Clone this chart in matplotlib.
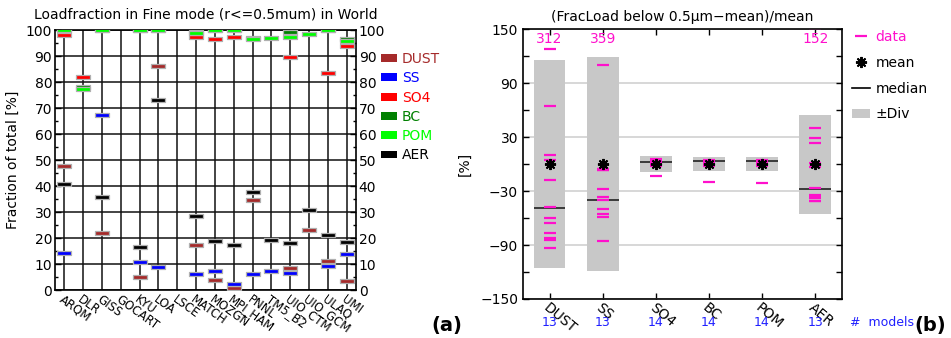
import numpy as np
import matplotlib
matplotlib.use('Agg')
import matplotlib.pyplot as plt
from matplotlib.path import Path
from matplotlib.patches import Patch
from matplotlib.lines import Line2D
from matplotlib.transforms import ScaledTranslation, blended_transform_factory

nan = np.nan

# --- pannello (a): frazione fine mode per modello ---
modelli = ['ARQM', 'DLR', 'GISS', 'GOCART', 'KYU', 'LOA', 'LSCE', 'MATCH', 'MOZGN',
           'MPI_HAM', 'PNNL', 'TM5_B2', 'UIO_CTM', 'UIO_GCM', 'ULAQ', 'UMI']
dust = [47.7, nan, 21.9, nan, 4.9, 86.2, nan, 17.2, 3.8, 0.9, 34.5, nan, 8.5, 23.0, 11.0, 3.5]
ss = [14.1, nan, 67.2, nan, 10.6, 8.7, nan, 6.0, 7.3, 2.2, 6.0, 7.3, 6.5, nan, 9.2, 13.7]
so4 = [98.2, 82.0, nan, nan, nan, nan, nan, 97.4, 96.5, 97.3, nan, nan, 89.5, nan, 83.6, 93.8]
bc = [100, 78.0, 100, nan, 100, 100, nan, 99.2, 100, 100, 97.0, nan, 99.2, nan, 100, 96.6]
pom = [100, 77.4, 100, nan, 100, 100, nan, 99.0, 100, 100, 96.4, 96.8, 97.3, 98.3, 100, 95.8]
aer = [40.7, nan, 35.8, nan, 16.7, 73.0, nan, 28.5, 19.0, 17.2, 37.6, 19.2, 18.1, 30.6, 21.2, 18.5]

specie_a = ['DUST', 'SS', 'SO4', 'BC', 'POM', 'AER']
colori_a = ['#a52a2a', '#0000ff', '#ff0000', '#008000', '#00ff00', '#000000']

# --- pannello (b): (FracLoad - mean)/mean ---
specie_b = ['DUST', 'SS', 'SO4', 'BC', 'POM', 'AER']
n_modelli = [13, 13, 14, 14, 14, 13]
medie = [0, 0, 0, 0, 0, 0]
mediane = [-48.4, -40.2, 2.0, 3.6, 3.8, -27.5]
div = [115.3, 119.4, 9.0, 7.5, 7.6, 55.2]
dati_dust = [312, 128, 65, 10, 5, -18, -48, -60, -66, -77, -82, -84, -93]
dati_ss = [359, 110, -5, -5, -7, -7, -28, -36, -40, -50, -55, -59, -85]
dati_so4 = [5.5, 5, 4.5, 4, 3, 3, 2, 2, 1, 1, 0.5, -1, -2, -13]
dati_bc = [4.5, 4, 3.5, 3, 3, 2.5, 2, 2, 1.5, 1, 0, -1, -2.5, -20]
dati_pom = [4.5, 4, 3.5, 3, 3, 2.5, 2, 2, 1.5, 1, 0, -1, -2.5, -21]
dati_aer = [152, 40, 29, 23, 1, -3, -27, -34, -35, -37, -38, -41, -41]

fig = plt.figure(figsize=(9.51, 3.38), dpi=100)

# ---------------- pannello (a) ----------------
ax = fig.add_axes([55 / 951, 48 / 338, 301 / 951, 260 / 338])
x = np.arange(1, len(modelli) + 1)

# marker rettangolare piatto
rett = Path([(-1, -0.36), (1, -0.36), (1, 0.36), (-1, 0.36), (-1, -0.36)],
            [Path.MOVETO, Path.LINETO, Path.LINETO, Path.LINETO, Path.CLOSEPOLY])

for valori, col in zip([dust, ss, so4, bc, pom, aer], colori_a):
    ax.plot(x, valori, ls='none', marker=rett, ms=9.5, mfc=col, mec='#b0b0b0',
            mew=0.9, zorder=3)

ax.set_xlim(0.5, len(modelli) + 0.5)
ax.set_ylim(0, 100)
ax.set_yticks(np.arange(0, 101, 10))
ax.set_yticks(np.arange(5, 100, 10), minor=True)
ax.set_xticks(x, modelli, rotation=-36, ha='left', va='top',
              rotation_mode='anchor', fontsize=8.5)
for lbl in ax.get_xticklabels():
    lbl.set_transform(lbl.get_transform() + ScaledTranslation(-5 / 72, 0, fig.dpi_scale_trans))
ax.tick_params(axis='x', length=0, pad=2)
ax.tick_params(axis='y', which='both', direction='in', right=True, labelright=True,
               labelsize=10, length=4, width=1, pad=2)
ax.tick_params(axis='y', which='minor', length=2.5)
ax.grid(True, color='#111111', lw=1.1)
ax.set_axisbelow(True)
for s in ax.spines.values():
    s.set_linewidth(1.2)
ax.set_ylabel('Fraction of total [%]', fontsize=10, labelpad=4)
ax.set_title('Loadfraction in Fine mode (r<=0.5mum) in World', fontsize=10, pad=8)

maniglie = [Patch(facecolor=c, edgecolor='none') for c in colori_a]
fig.legend(maniglie, specie_a, loc='upper left', bbox_to_anchor=(381 / 951, 1 - 52 / 338),
           frameon=False, fontsize=10, labelcolor=colori_a, handlelength=1.15,
           handleheight=0.5, handletextpad=0.35, labelspacing=0.38, borderpad=0,
           borderaxespad=0)

fig.text(431 / 951, 1 - 325 / 338, '(a)', fontsize=14, fontweight='bold', va='center')

# ---------------- pannello (b) ----------------
ax2 = fig.add_axes([523 / 951, 39 / 338, 318.7 / 951, 269.7 / 338])
xb = np.arange(1, len(specie_b) + 1)
larg = 0.6
magenta = '#ff10cc'

ax2.bar(xb, 2 * np.array(div), bottom=np.array(medie) - np.array(div), width=larg,
        color='#c8c8c8', zorder=1)
ax2.hlines(mediane, xb - larg / 2, xb + larg / 2, color='#222222', lw=1.2, zorder=3)

ymax = 150
for xi, vals in zip(xb, [dati_dust, dati_ss, dati_so4, dati_bc, dati_pom, dati_aer]):
    vals = np.array(vals, dtype=float)
    ax2.plot(np.full(len(vals), xi), vals, ls='none', marker='_', ms=8.5, mew=1.6,
             color=magenta, zorder=4)
    for v in vals[vals > ymax]:
        ax2.text(xi, 139, f'{v:.0f}', color=magenta, fontsize=10, ha='center', va='center')

ax2.plot(xb, medie, ls='none', marker=(8, 2, 0), ms=8, mew=1.4, color='k', zorder=5)

ax2.set_xlim(0.5, len(specie_b) + 0.5)
ax2.set_ylim(-150, 150)
ax2.set_yticks([150, 90, 30, -30, -90, -150])
ax2.set_yticks([120, 60, 0, -60, -120], minor=True)
ax2.set_xticks(xb, specie_b, rotation=-40, ha='left', va='top',
               rotation_mode='anchor', fontsize=9)
for lbl in ax2.get_xticklabels():
    lbl.set_transform(lbl.get_transform() + ScaledTranslation(3 / 72, 0, fig.dpi_scale_trans))
ax2.tick_params(axis='both', which='both', direction='in', top=True, right=True,
                length=4, width=1, labelsize=10)
ax2.tick_params(axis='x', pad=1)
ax2.grid(True, axis='y', which='major', color='#d4d4d4', lw=1.3)
ax2.set_axisbelow(True)
for s in ax2.spines.values():
    s.set_linewidth(1.2)
ax2.set_ylabel('[%]', fontsize=10, labelpad=6)
ax2.set_title('(FracLoad below 0.5\u03bcm\u2212mean)/mean', fontsize=10, pad=6)

trans = blended_transform_factory(ax2.transData, ax2.transAxes)
for xi, n in zip(xb, n_modelli):
    ax2.text(xi, -0.088, str(n), transform=trans, color='#2020ff', fontsize=9,
             ha='center', va='center')
fig.text(850 / 951, 1 - 322 / 338, '#  models', color='#2020ff', fontsize=9, va='center')

mani_b = [Line2D([], [], ls='none', marker='_', ms=9, mew=1.6, color=magenta),
          Line2D([], [], ls='none', marker=(8, 2, 0), ms=8, mew=1.4, color='k'),
          Line2D([], [], color='k', lw=1.2),
          Patch(facecolor='#c8c8c8', edgecolor='none')]
fig.legend(mani_b, ['data', 'mean', 'median', '\u00b1Div'], loc='upper left',
           bbox_to_anchor=(852 / 951, 1 - 30 / 338), frameon=False, fontsize=10,
           labelcolor=[magenta, 'k', 'k', 'k'], handlelength=1.3, handleheight=0.55,
           handletextpad=0.4, labelspacing=0.85, borderpad=0, borderaxespad=0)

fig.text(914 / 951, 1 - 325 / 338, '(b)', fontsize=14, fontweight='bold', va='center')

fig.savefig('out.png', dpi=100)
